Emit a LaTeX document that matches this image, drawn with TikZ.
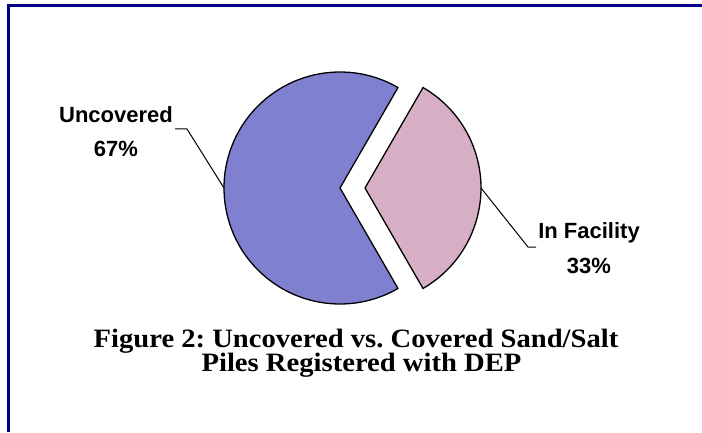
\documentclass[tikz,border=0pt]{standalone}
\usepackage{fontspec}
\newfontfamily\lblfont{Liberation Sans}
\newfontfamily\capfont{Liberation Serif}
\frenchspacing
\definecolor{framenavy}{RGB}{0,0,139}
\definecolor{uncblue}{RGB}{128,128,208}
\definecolor{facpink}{RGB}{214,175,196}
\tikzset{slice/.style={draw=black,line width=1.3pt,line join=round},
  pct/.style={font={\lblfont\fontsize{22}{35}\selectfont\bfseries},align=center,inner ysep=0pt,inner xsep=2pt},
  leader/.style={draw=black,line width=1pt},
  caption/.style={font={\capfont\fontsize{26.5}{26.5}\selectfont\bfseries},inner sep=0pt}}

\begin{document}
\begin{tikzpicture}[x=1pt,y=1pt]
\useasboundingbox (0,0) rectangle (702,432);
\draw[framenavy,line width=2.5pt] (8.3,0) -- (8.3,426.5) -- (702,426.5);

% the two slices, facility pulled out
\draw[slice,fill=uncblue] (340,244) -- ++(60:116) arc[start angle=60,end angle=300,radius=116] -- cycle;
\draw[slice,fill=facpink] (365,244) -- ++(-60:116) arc[start angle=-60,end angle=60,radius=116] -- cycle;
\coordinate (uncmid) at (224,244);
\coordinate (facmid) at (481,244);

% labels (base = last line)
\node[pct,anchor=base] (unc) at (116,275) {Uncovered\\67\%};
\node[pct,anchor=base] (fac) at (589,159) {In Facility\\33\%};
\coordinate (uncbend) at (187,303);
\coordinate (facbend) at (528,185);
\draw[leader] (uncmid) -- (uncbend) -- (uncbend -| unc.east);
\draw[leader] (facmid) -- (facbend) -- (facbend -| fac.west);

% caption
\node[caption,anchor=base] (title1) at (356,85) {\scalebox{1.08}[1]{Figure 2: Uncovered vs. Covered Sand/Salt}};
\node[caption,anchor=base] (title2) at (361.5,61) {\scalebox{1.08}[1]{Piles Registered with DEP}};
\end{tikzpicture}
\end{document}
